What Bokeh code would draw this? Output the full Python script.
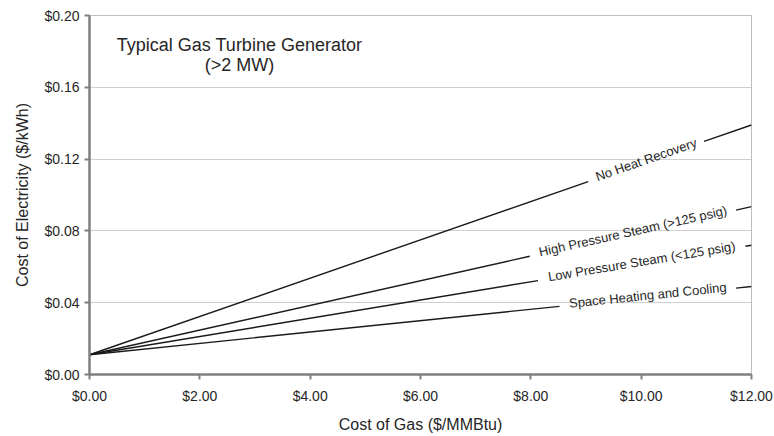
import math
from bokeh.plotting import figure
from bokeh.models import Label, NumeralTickFormatter, SingleIntervalTicker, Range1d
from bokeh.embed import file_html
from bokeh.resources import INLINE

# ---- data ----
gas_cost = [0.0, 12.0]
series_names = [
    "No Heat Recovery",
    "High Pressure Steam (>125 psig)",
    "Low Pressure Steam (<125 psig)",
    "Space Heating and Cooling",
]
no_heat_recovery = [0.011, 0.139]
high_pressure_steam = [0.011, 0.0935]
low_pressure_steam = [0.011, 0.072]
space_heating_cooling = [0.011, 0.049]

# label placement (x centre of label along the line, half width of the gap in the line)
label_x = [10.09, 9.85, 10.01, 10.12]
gap_half = [1.05, 1.87, 1.88, 1.6]

title_lines = ["Typical Gas Turbine Generator", "(>2 MW)"]

FONT = "Liberation Sans"
TXT = "#262626"

W, H = 774, 436
ML, MR, MT, MB = 89, 23, 15, 62
FW, FH = W - ML - MR, H - MT - MB
X0, X1, Y0, Y1 = 0, 12, 0, 0.20

p = figure(width=W, height=H, output_backend="svg", toolbar_location=None,
           x_range=Range1d(X0, X1), y_range=Range1d(Y0, Y1),
           min_border_left=ML, min_border_right=MR, min_border_top=MT, min_border_bottom=MB)
p.background_fill_color = "white"
p.border_fill_color = "white"
p.outline_line_color = "#bdbdbd"
p.outline_line_width = 1

p.xgrid.grid_line_color = None
p.ygrid.grid_line_color = "#cfcfcf"
p.ygrid.grid_line_width = 1

p.xaxis.ticker = SingleIntervalTicker(interval=2)
p.yaxis.ticker = SingleIntervalTicker(interval=0.04)
p.xaxis.formatter = NumeralTickFormatter(format="$0.00")
p.yaxis.formatter = NumeralTickFormatter(format="$0.00")

for ax in (p.xaxis, p.yaxis):
    ax.axis_line_color = "#7f7f7f"
    ax.axis_line_width = 2.5
    ax.major_tick_line_color = "#7f7f7f"
    ax.major_tick_line_width = 2
    ax.major_tick_out = 5
    ax.major_tick_in = 0
    ax.minor_tick_line_color = None
    ax.major_label_text_font = FONT
    ax.major_label_text_font_size = "14px"
    ax.major_label_text_color = TXT
    ax.axis_label_text_font = FONT
    ax.axis_label_text_font_size = "16px"
    ax.axis_label_text_font_style = "normal"
    ax.axis_label_text_color = TXT

p.xaxis.axis_label = "Cost of Gas ($/MMBtu)"
p.yaxis.axis_label = "Cost of Electricity ($/kWh)"
p.xaxis.major_label_standoff = 8
p.xaxis.axis_label_standoff = 9
p.yaxis.major_label_standoff = 5
p.yaxis.axis_label_standoff = 10

all_series = [no_heat_recovery, high_pressure_steam, low_pressure_steam, space_heating_cooling]
for name, ys, lx, gh in zip(series_names, all_series, label_x, gap_half):
    slope = (ys[1] - ys[0]) / (gas_cost[1] - gas_cost[0])
    f = lambda x: ys[0] + slope * (x - gas_cost[0])
    xa, xb = lx - gh, min(lx + gh, gas_cost[1])
    # line broken where the label sits
    p.line([gas_cost[0], xa], [ys[0], f(xa)], line_color="#1a1a1a", line_width=1.4)
    if xb < gas_cost[1]:
        p.line([xb, gas_cost[1]], [f(xb), ys[1]], line_color="#1a1a1a", line_width=1.4)
    ang = math.atan(slope * (FH / (Y1 - Y0)) / (FW / (X1 - X0)))
    p.add_layout(Label(x=lx, y=f(lx), text=name, angle=ang, text_align="center",
                       text_baseline="middle", text_font=FONT, text_font_size="13px",
                       text_color=TXT, y_offset=2))

p.add_layout(Label(x=2.72, y=0.1835, text=title_lines[0], text_align="center",
                   text_baseline="middle", text_font=FONT, text_font_size="18px",
                   text_color=TXT))
p.add_layout(Label(x=2.72, y=0.1722, text=title_lines[1], text_align="center",
                   text_baseline="middle", text_font=FONT, text_font_size="18px",
                   text_color=TXT))

open("out.html", "w").write(file_html(p, INLINE))
